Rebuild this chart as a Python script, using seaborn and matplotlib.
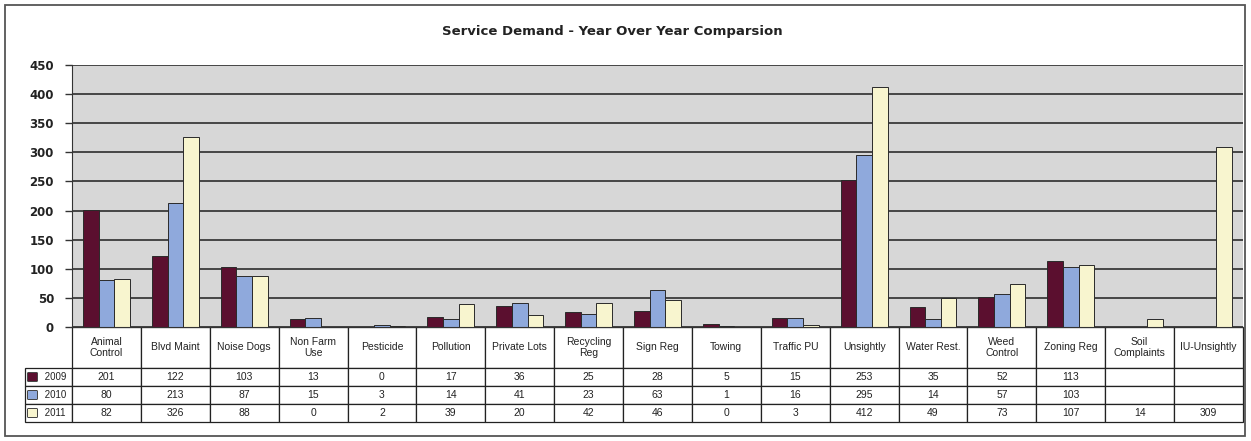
import pandas as pd
import matplotlib.pyplot as plt
import seaborn as sns
from matplotlib.patches import Rectangle
import matplotlib.patheffects as pe

#########################################################
# Data
#########################################################
categories = ["Animal Control", "Blvd Maint", "Noise Dogs", "Non Farm Use", "Pesticide",
              "Pollution", "Private Lots", "Recycling Reg", "Sign Reg", "Towing",
              "Traffic PU", "Unsightly", "Water Rest.", "Weed Control", "Zoning Reg",
              "Soil Complaints", "IU-Unsightly"]
col_labels = ["Animal\nControl", "Blvd Maint", "Noise Dogs", "Non Farm\nUse", "Pesticide",
              "Pollution", "Private Lots", "Recycling\nReg", "Sign Reg", "Towing",
              "Traffic PU", "Unsightly", "Water Rest.", "Weed\nControl", "Zoning Reg",
              "Soil\nComplaints", "IU-Unsightly"]
years = ["2009", "2010", "2011"]
v2009 = [201, 122, 103, 13, 0, 17, 36, 25, 28, 5, 15, 253, 35, 52, 113, None, None]
v2010 = [80, 213, 87, 15, 3, 14, 41, 23, 63, 1, 16, 295, 14, 57, 103, None, None]
v2011 = [82, 326, 88, 0, 2, 39, 20, 42, 46, 0, 3, 412, 49, 73, 107, 14, 309]
colors = ["#5b0f2f", "#8fa9dc", "#f8f5cf"]

series = [v2009, v2010, v2011]
df = pd.DataFrame({
    "category": categories * 3,
    "year": [y for y in years for _ in categories],
    "value": v2009 + v2010 + v2011,
}).dropna()

#########################################################
# Figure
#########################################################
W, H = 1251, 441
fig = plt.figure(figsize=(W / 100, H / 100), dpi=100)
ax_left, ax_w = 72, 1171
ax_bottom, ax_h = 327, 262
ax = fig.add_axes([ax_left / W, 1 - ax_bottom / H, ax_w / W, ax_h / H])

sns.barplot(data=df, x="category", y="value", hue="year", order=categories,
            hue_order=years, palette=colors, saturation=1, width=0.68,
            edgecolor="#2a2a2a", linewidth=0.7, legend=False, ax=ax)

ax.set_facecolor("#d7d7d7")
ax.set_xlim(-0.5, len(categories) - 0.5)
ax.set_ylim(0, 450)
ax.set_yticks(range(0, 451, 50))
ax.yaxis.grid(True, color="#1e1e1e", linewidth=1.1)
ax.set_axisbelow(True)
ax.set_xticks([])
ax.set_xlabel("")
ax.set_ylabel("")
for s in ["top", "right"]:
    ax.spines[s].set_visible(False)
ax.spines["left"].set_color("#333")
ax.spines["bottom"].set_color("#333")
ax.tick_params(axis="y", length=5, width=1, color="#333", pad=8)
for lab in ax.get_yticklabels():
    lab.set_fontsize(8.5)
    lab.set_fontweight("bold")
    lab.set_color("#222")

#########################################################
# Data table under the bars
#########################################################
def fmt(v):
    return "" if v is None else str(v)

cell_text = [[years[i]] + [fmt(v) for v in series[i]] for i in range(3)]
lab_w, col_w = 47, ax_w / len(categories)
tbl = ax.table(cellText=cell_text, colLabels=[""] + col_labels,
               colWidths=[lab_w] + [col_w] * len(categories),
               cellLoc="center",
               bbox=[-lab_w / ax_w, -95 / ax_h, 1 + lab_w / ax_w, 95 / ax_h])
tbl.auto_set_font_size(False)
tbl.set_fontsize(7.5)
for (r, c), cell in tbl.get_celld().items():
    cell.set_edgecolor("#222")
    cell.set_linewidth(0.9)
    cell.set_height(41 if r == 0 else 18)
    cell.get_text().set_fontfamily(["Liberation Sans Narrow", "Liberation Sans", "DejaVu Sans"])
    cell.get_text().set_color("#222")
tbl[(0, 0)].set_visible(False)
for i in range(3):
    cell = tbl[(i + 1, 0)]
    cell.get_text().set_text("     " + years[i])
    cell.get_text().set_fontsize(7)
    ax.annotate("■", xy=(0.16, 0.5), xycoords=cell, color=colors[i],
                ha="center", va="center", fontsize=8,
                path_effects=[pe.withStroke(linewidth=1.2, foreground="#222")])

#########################################################
# Title and outer frame
#########################################################
fig.text(612 / W, 1 - 32 / H, "Service Demand - Year Over Year Comparsion",
         ha="center", va="center", fontsize=9.5, fontweight="bold", color="#222")
fig.add_artist(Rectangle((5 / W, 5 / H), 1240 / W, 431 / H, transform=fig.transFigure,
                         fill=False, edgecolor="#555", linewidth=1.3))

fig.savefig("out.png", dpi=100)
